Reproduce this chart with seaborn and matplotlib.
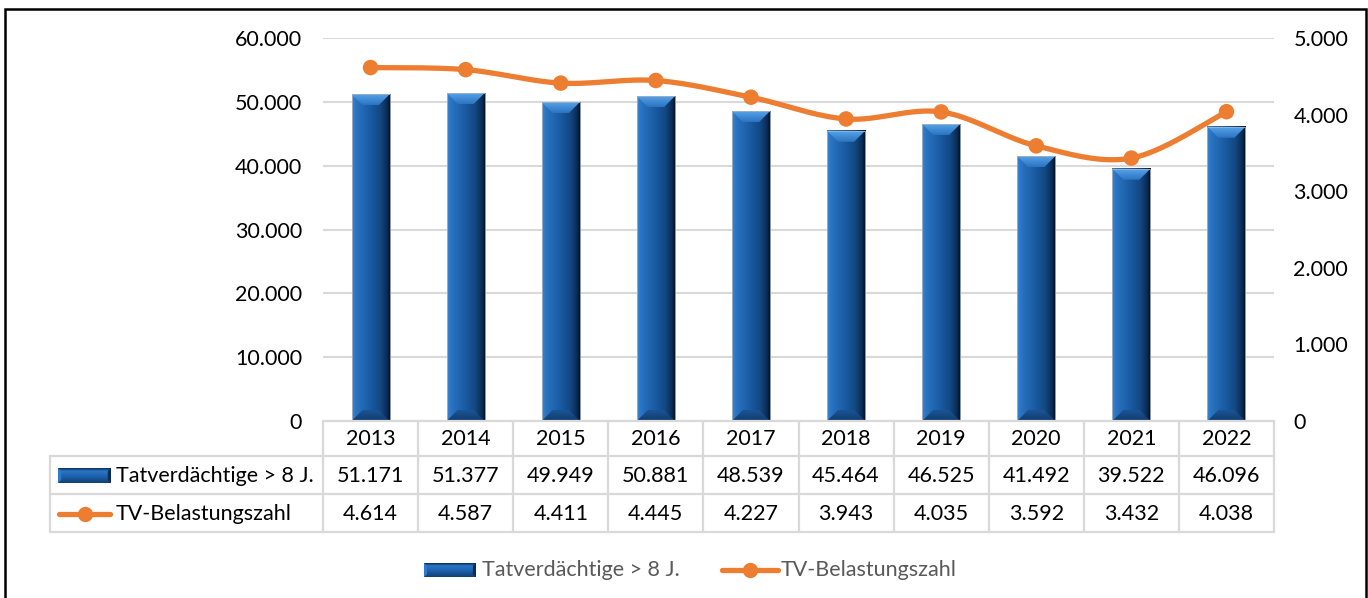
import numpy as np
import matplotlib
matplotlib.use("Agg")
import matplotlib.pyplot as plt
import seaborn as sns
import pandas as pd
from matplotlib.lines import Line2D
from matplotlib.patches import Polygon, Rectangle
from matplotlib.colors import LinearSegmentedColormap

# ---- data -------------------------------------------------------------
years = ["2013", "2014", "2015", "2016", "2017", "2018", "2019", "2020", "2021", "2022"]
suspects = [51171, 51377, 49949, 50881, 48539, 45464, 46525, 41492, 39522, 46096]
burden = [4614, 4587, 4411, 4445, 4227, 3943, 4035, 3592, 3432, 4038]
bar_label = "Tatverdächtige > 8 J."
line_label = "TV-Belastungszahl"
left_ticks = [0, 10000, 20000, 30000, 40000, 50000, 60000]
right_ticks = [0, 1000, 2000, 3000, 4000, 5000]

W, H, DPI = 1368, 598, 100
ORANGE = "#ED7D31"
GRID = "#d9d9d9"
FS = 15.5

sns.set_theme(style="white")
plt.rcParams["font.family"] = ["Lato", "DejaVu Sans"]


def de(v):
    return f"{v:,}".replace(",", ".")


def fx(px):
    return px / W


def fy(py):
    return 1 - py / H


fig = plt.figure(figsize=(W / DPI, H / DPI), dpi=DPI)
ax = fig.add_axes([fx(323), fy(421), fx(1274) - fx(323), fy(38) - fy(421)])

df = pd.DataFrame({"Jahr": years, "TV": suspects, "BZ": burden})

# ---- bars ---------------------------------------------------------------
sns.barplot(data=df, x="Jahr", y="TV", ax=ax, width=0.4, color="#1a5ca4",
            saturation=1, edgecolor="none", zorder=2)
ax.set_xlim(-0.5, len(years) - 0.5)
ax.set_ylim(left_ticks[0], left_ticks[-1])

body_cmap = LinearSegmentedColormap.from_list(
    "body", [(0.0, "#3a86d4"), (0.1, "#2a74c2"), (0.45, "#1a5ca4"),
             (0.72, "#134884"), (0.9, "#0b2c55"), (1.0, "#030c18")])
top_cmap = LinearSegmentedColormap.from_list("top", ["#55a2ea", "#2c74c0"])
bot_cmap = LinearSegmentedColormap.from_list("bot", ["#1a5596", "#113b6b"])

ax_h_px = (421 - 38)
ax_w_px = (1274 - 323)
bevel_y = 11 * (left_ticks[-1] - left_ticks[0]) / ax_h_px
bevel_x = 11 * len(years) / ax_w_px

hgrad = np.linspace(0, 1, 256)[np.newaxis, :]
vgrad = np.linspace(0, 1, 64)[:, np.newaxis]
for p in list(ax.patches):
    x0, w, h = p.get_x(), p.get_width(), p.get_height()
    ax.imshow(hgrad, extent=[x0, x0 + w, 0, h], aspect="auto", cmap=body_cmap,
              zorder=3, interpolation="bilinear")
    top = Polygon([(x0, h), (x0 + w, h), (x0 + w - bevel_x, h - bevel_y),
                   (x0 + bevel_x, h - bevel_y)], closed=True, facecolor="none",
                  edgecolor="none")
    ax.add_patch(top)
    im = ax.imshow(vgrad, extent=[x0, x0 + w, h - bevel_y, h], aspect="auto",
                   cmap=top_cmap, zorder=4, origin="upper", interpolation="bilinear")
    im.set_clip_path(top)
    bot = Polygon([(x0, 0), (x0 + w, 0), (x0 + w - bevel_x, bevel_y),
                   (x0 + bevel_x, bevel_y)], closed=True, facecolor="none",
                  edgecolor="none")
    ax.add_patch(bot)
    im = ax.imshow(vgrad, extent=[x0, x0 + w, 0, bevel_y], aspect="auto",
                   cmap=bot_cmap, zorder=4, origin="upper", interpolation="bilinear")
    im.set_clip_path(bot)
    ax.add_patch(Rectangle((x0, 0), w, h, facecolor="none", edgecolor="#a9b4c0",
                           lw=0.6, zorder=5))

ax.set_xlim(-0.5, len(years) - 0.5)
ax.set_ylim(left_ticks[0], left_ticks[-1])
ax.set_yticks(left_ticks)
ax.set_yticklabels([de(v) for v in left_ticks], fontsize=FS, color="black")
ax.set_xticks([])
ax.set_xlabel("")
ax.set_ylabel("")
ax.tick_params(axis="y", length=0, pad=15)
ax.yaxis.grid(True, color=GRID, lw=1.5, zorder=0)
ax.set_axisbelow(True)
for s in ax.spines.values():
    s.set_visible(False)

# ---- smoothed line on secondary axis -----------------------------------
ax2 = ax.twinx()
ax2.set_ylim(right_ticks[0], right_ticks[-1])
xs = np.arange(len(years), dtype=float)
ys = np.array(burden, dtype=float)
px_ = np.concatenate([[xs[0]], xs, [xs[-1]]])
py_ = np.concatenate([[ys[0]], ys, [ys[-1]]])
cx, cy = [], []
t = np.linspace(0, 1, 40)
for i in range(len(xs) - 1):
    p0 = np.array([px_[i + 1], py_[i + 1]])
    p3 = np.array([px_[i + 2], py_[i + 2]])
    c1 = p0 + (p3 - np.array([px_[i], py_[i]])) / 6
    c2 = p3 - (np.array([px_[i + 3], py_[i + 3]]) - p0) / 6
    b = ((1 - t) ** 3)[:, None] * p0 + (3 * (1 - t) ** 2 * t)[:, None] * c1 \
        + (3 * (1 - t) * t ** 2)[:, None] * c2 + (t ** 3)[:, None] * p3
    cx.extend(b[:, 0])
    cy.extend(b[:, 1])
ax2.plot(cx, cy, color=ORANGE, lw=3.8, solid_capstyle="round", zorder=6)
sns.scatterplot(x=xs, y=ys, ax=ax2, s=125, color=ORANGE, edgecolor="none",
                zorder=7, legend=False)
ax2.set_xlim(-0.5, len(years) - 0.5)
ax2.set_yticks(right_ticks)
ax2.set_yticklabels([de(v) for v in right_ticks], fontsize=FS, color="black")
ax2.tick_params(axis="y", length=0, pad=14)
ax2.set_ylabel("")
for s in ax2.spines.values():
    s.set_visible(False)

# ---- data table below the plot ------------------------------------------
to_fig = ax.transData + fig.transFigure.inverted()


def col_x(v):
    return to_fig.transform((v, 0))[0]


edges = [col_x(i - 0.5) for i in range(len(years) + 1)]
centers = [col_x(i) for i in range(len(years))]
row_lines = [421, 456, 494, 532]


def fline(x, y, **kw):
    fig.add_artist(Line2D(x, y, transform=fig.transFigure, color=GRID, lw=1.6, **kw))


fline([edges[0], edges[-1]], [fy(421), fy(421)])
for r in row_lines[1:]:
    fline([fx(50), edges[-1]], [fy(r), fy(r)])
for e in edges:
    fline([e, e], [fy(421), fy(532)])
fline([fx(50), fx(50)], [fy(456), fy(532)])

for c, yr, v1, v2 in zip(centers, years, suspects, burden):
    fig.text(c, fy(439), yr, ha="center", va="center", fontsize=FS, color="black")
    fig.text(c, fy(476), de(v1), ha="center", va="center", fontsize=FS, color="black")
    fig.text(c, fy(514), de(v2), ha="center", va="center", fontsize=FS, color="black")

icon_cmap = LinearSegmentedColormap.from_list(
    "icon", [(0.0, "#0b2c55"), (0.2, "#2a76c6"), (0.6, "#1b5ea8"), (1.0, "#123f72")])


def bar_icon(x0, x1, y0, y1):
    iax = fig.add_axes([fx(x0), fy(y1), fx(x1) - fx(x0), fy(y0) - fy(y1)])
    iax.imshow(vgrad, aspect="auto", cmap=icon_cmap, extent=[0, 1, 0, 1],
               origin="upper", interpolation="bilinear")
    iax.add_patch(Polygon([(0, 0), (0.06, 0.2), (0.06, 0.8), (0, 1)], closed=True,
                          facecolor="#2f7bc9", edgecolor="none"))
    iax.add_patch(Polygon([(1, 0), (0.94, 0.2), (0.94, 0.8), (1, 1)], closed=True,
                          facecolor="#0b2c55", edgecolor="none"))
    iax.set_xlim(0, 1)
    iax.set_ylim(0, 1)
    iax.axis("off")


def line_icon(x0, x1, y):
    fig.add_artist(Line2D([fx(x0), fx(x1)], [fy(y), fy(y)], transform=fig.transFigure,
                          color=ORANGE, lw=3.8, solid_capstyle="round"))
    fig.add_artist(Line2D([fx((x0 + x1) / 2)], [fy(y)], transform=fig.transFigure,
                          marker="o", markersize=11, color=ORANGE, markeredgewidth=0))


bar_icon(58, 111, 468, 483)
fig.text(fx(116), fy(476), bar_label, ha="left", va="center", fontsize=FS, color="black")
line_icon(59, 110, 514)
fig.text(fx(116), fy(514), line_label, ha="left", va="center", fontsize=FS, color="black")

# ---- legend below the table ------------------------------------------------
bar_icon(424, 476, 563, 577)
fig.text(fx(482), fy(570), bar_label, ha="left", va="center", fontsize=FS, color="#595959")
line_icon(722, 778, 570)
fig.text(fx(781), fy(570), line_label, ha="left", va="center", fontsize=FS, color="#595959")

# ---- outer frame ------------------------------------------------------------
fig.add_artist(Rectangle((fx(5), fy(620)), fx(1366) - fx(5), fy(9) - fy(620),
                         transform=fig.transFigure, fill=False, edgecolor="black",
                         lw=1.8))

fig.savefig("out.png", dpi=DPI)
